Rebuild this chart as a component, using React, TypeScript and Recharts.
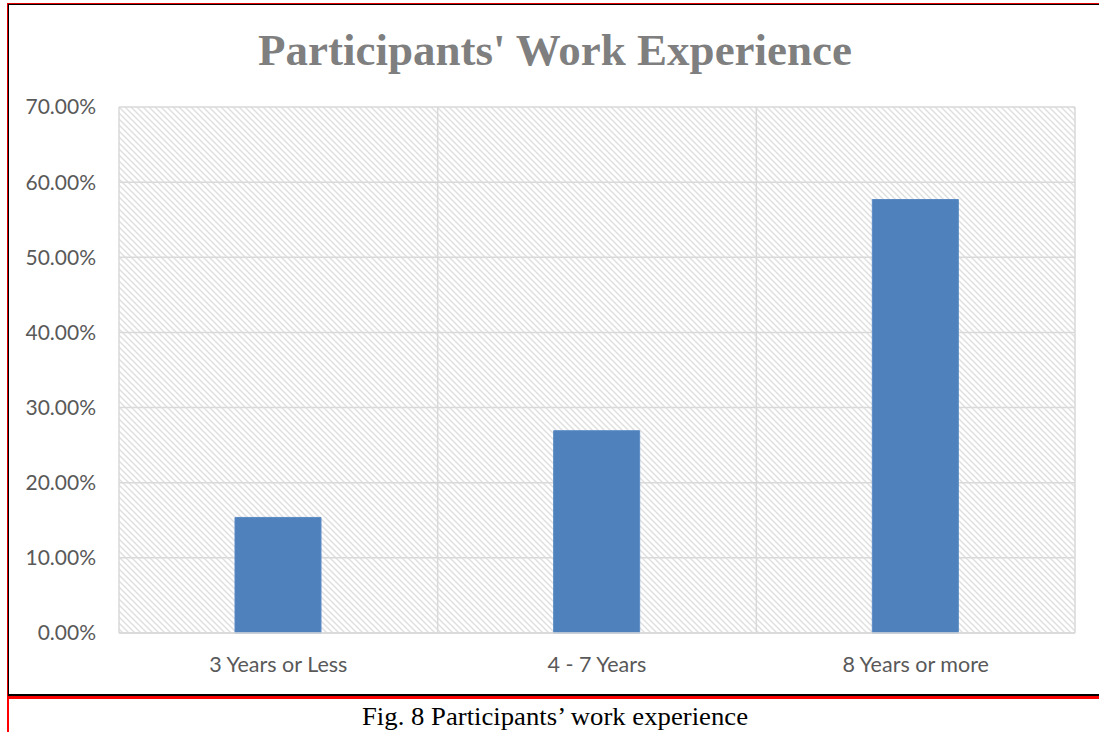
import React from 'react';
import { BarChart, Bar, XAxis, YAxis, CartesianGrid } from 'recharts';

const categories = ['3 Years or Less', '4 - 7 Years', '8 Years or more'];
const shares = [0.1538, 0.2692, 0.5769];
const yTicks = [0, 0.1, 0.2, 0.3, 0.4, 0.5, 0.6, 0.7];
const title = "Participants' Work Experience";
const caption = 'Fig. 8 Participants\u2019 work experience';

const data = categories.map((c, i) => ({ category: c, value: shares[i] }));

const axisFont = 'Lato, "Open Sans", sans-serif';

// vertical grid lines at the category boundaries, derived from the plot offset
const boundaryLines = (props: any) => {
  const off = props.offset || {};
  const left = off.left ?? 0;
  const width = off.width ?? 0;
  const n = categories.length;
  const out: number[] = [];
  for (let i = 0; i <= n; i++) out.push(left + (width * i) / n);
  return out;
};

export default function App() {
  return (
    <div style={{ position: 'fixed', left: 0, top: 0, width: 1099, height: 732, overflow: 'hidden', background: '#fff' }}>
      {/* frame */}
      <div style={{ position: 'absolute', left: 7, top: 3, width: 1200, height: 693, border: '1px solid #e00000', boxSizing: 'border-box' }} />
      <div style={{ position: 'absolute', left: 8, top: 4, width: 1200, height: 692, border: '1.5px solid #000', borderBottomWidth: 2, boxSizing: 'border-box' }} />
      <div style={{ position: 'absolute', left: 7, top: 696, width: 1200, height: 100, borderTop: '3px solid #ff0000', borderLeft: '2px solid #ff0000', boxSizing: 'border-box' }} />

      <div style={{ position: 'absolute', left: 0, top: 0 }}>
        <BarChart width={1099} height={700} data={data} margin={{ top: 107, right: 24, left: 0, bottom: 0 }}>
          <defs>
            <pattern id="hatch" width="6" height="6" patternUnits="userSpaceOnUse">
              <rect width="6" height="6" fill="#ffffff" />
              <path d="M-1,-1 L7,7 M-7,-1 L1,7 M5,-1 L13,7" stroke="#e0e0e0" strokeWidth="1.5" />
            </pattern>
          </defs>
          <CartesianGrid
            stroke="#d9d9d9"
            strokeWidth={1.5}
            fill="url(#hatch)"
            fillOpacity={1}
            horizontal
            vertical
            verticalCoordinatesGenerator={boundaryLines}
          />
          <XAxis
            dataKey="category"
            height={67}
            axisLine={{ stroke: '#d9d9d9', strokeWidth: 1.5 }}
            tickLine={false}
            tickMargin={18}
            interval={0}
            tick={{ fill: '#595959', fontSize: 21.5, fontFamily: axisFont }}
          />
          <YAxis
            width={119}
            domain={[0, 0.7]}
            ticks={yTicks}
            axisLine={false}
            tickLine={false}
            tickMargin={17}
            tickFormatter={(v: number) => (v * 100).toFixed(2) + '%'}
            tick={{ fill: '#595959', fontSize: 21, fontFamily: axisFont }}
          />
          <Bar dataKey="value" fill="#4f81bd" stroke="#5a8ac4" strokeWidth={1} barSize={86} isAnimationActive={false} />
        </BarChart>
      </div>

      <svg style={{ position: 'absolute', left: 0, top: 0 }} width={1099} height={732}>
        <text
          x={555}
          y={65}
          textAnchor="middle"
          fill="#7f7f7f"
          fontFamily='"Liberation Serif", "DejaVu Serif", serif'
          fontWeight="bold"
          fontSize={44}
          textLength={594}
          lengthAdjust="spacingAndGlyphs"
        >
          {title}
        </text>
        <text
          x={555}
          y={725}
          textAnchor="middle"
          fill="#000"
          fontFamily='"Liberation Serif", "Times New Roman", serif'
          fontSize={25}
          textLength={386}
          lengthAdjust="spacingAndGlyphs"
        >
          {caption}
        </text>
      </svg>
    </div>
  );
}
